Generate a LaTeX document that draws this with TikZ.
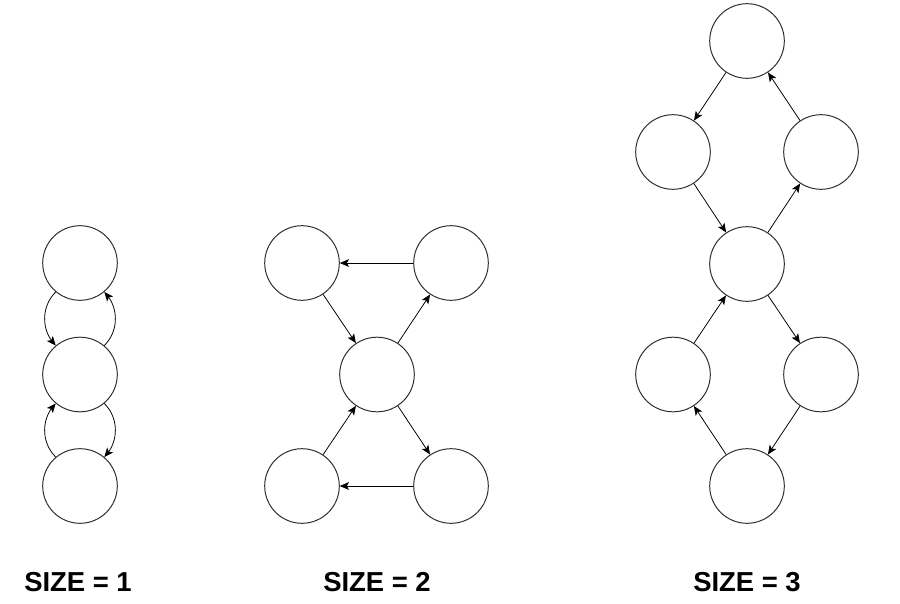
\documentclass[tikz,border=0pt]{standalone}
\usepackage{fontspec}
\setmainfont{Liberation Sans}
\usepackage{xcolor}
\usetikzlibrary{arrows.meta,bending}
\definecolor{ringGray}{RGB}{45,45,45}
\tikzset{
  state/.style={circle,draw=ringGray,line width=0.7pt,minimum size=1.865cm,inner sep=0pt},
  flow/.style={draw=black,line width=0.55pt,-{Stealth[length=6.5pt,width=5.5pt,inset=1.5pt]}},
  caption/.style={font=\fontsize{19.5}{22}\selectfont\bfseries}
}
\begin{document}
\begin{tikzpicture}[x=0.025cm,y=-0.025cm]
\useasboundingbox (0,0) rectangle (900,604);
% size 1
\node[state] (a1) at (80,263) {};
\node[state] (a2) at (80,374.5) {};
\node[state] (a3) at (80,486) {};
\draw[flow] (a1.230) to[bend right=45] (a2.130);
\draw[flow] (a2.50) to[bend right=45] (a1.310);
\draw[flow] (a3.130) to[bend left=45] (a2.230);
\draw[flow] (a2.310) to[bend left=45] (a3.50);
% size 2
\node[state] (b1) at (302,263) {};
\node[state] (b2) at (451,263) {};
\node[state] (b3) at (377,374.5) {};
\node[state] (b4) at (302,486) {};
\node[state] (b5) at (451,486) {};
\draw[flow] (b2) -- (b1);
\draw[flow] (b1) -- (b3);
\draw[flow] (b3) -- (b2);
\draw[flow] (b4) -- (b3);
\draw[flow] (b3) -- (b5);
\draw[flow] (b5) -- (b4);
% size 3
\node[state] (c1) at (747,41) {};
\node[state] (c2) at (673,152) {};
\node[state] (c3) at (821,152) {};
\node[state] (c4) at (747,264) {};
\node[state] (c5) at (673,374.5) {};
\node[state] (c6) at (821,374.5) {};
\node[state] (c7) at (747,486) {};
\draw[flow] (c1) -- (c2);
\draw[flow] (c3) -- (c1);
\draw[flow] (c2) -- (c4);
\draw[flow] (c4) -- (c3);
\draw[flow] (c5) -- (c4);
\draw[flow] (c4) -- (c6);
\draw[flow] (c6) -- (c7);
\draw[flow] (c7) -- (c5);
% captions
\node[caption] (s1) at (78,582) {SIZE = 1};
\node[caption] (s2) at (377,582) {SIZE = 2};
\node[caption] (s3) at (747,582) {SIZE = 3};
\end{tikzpicture}
\end{document}
